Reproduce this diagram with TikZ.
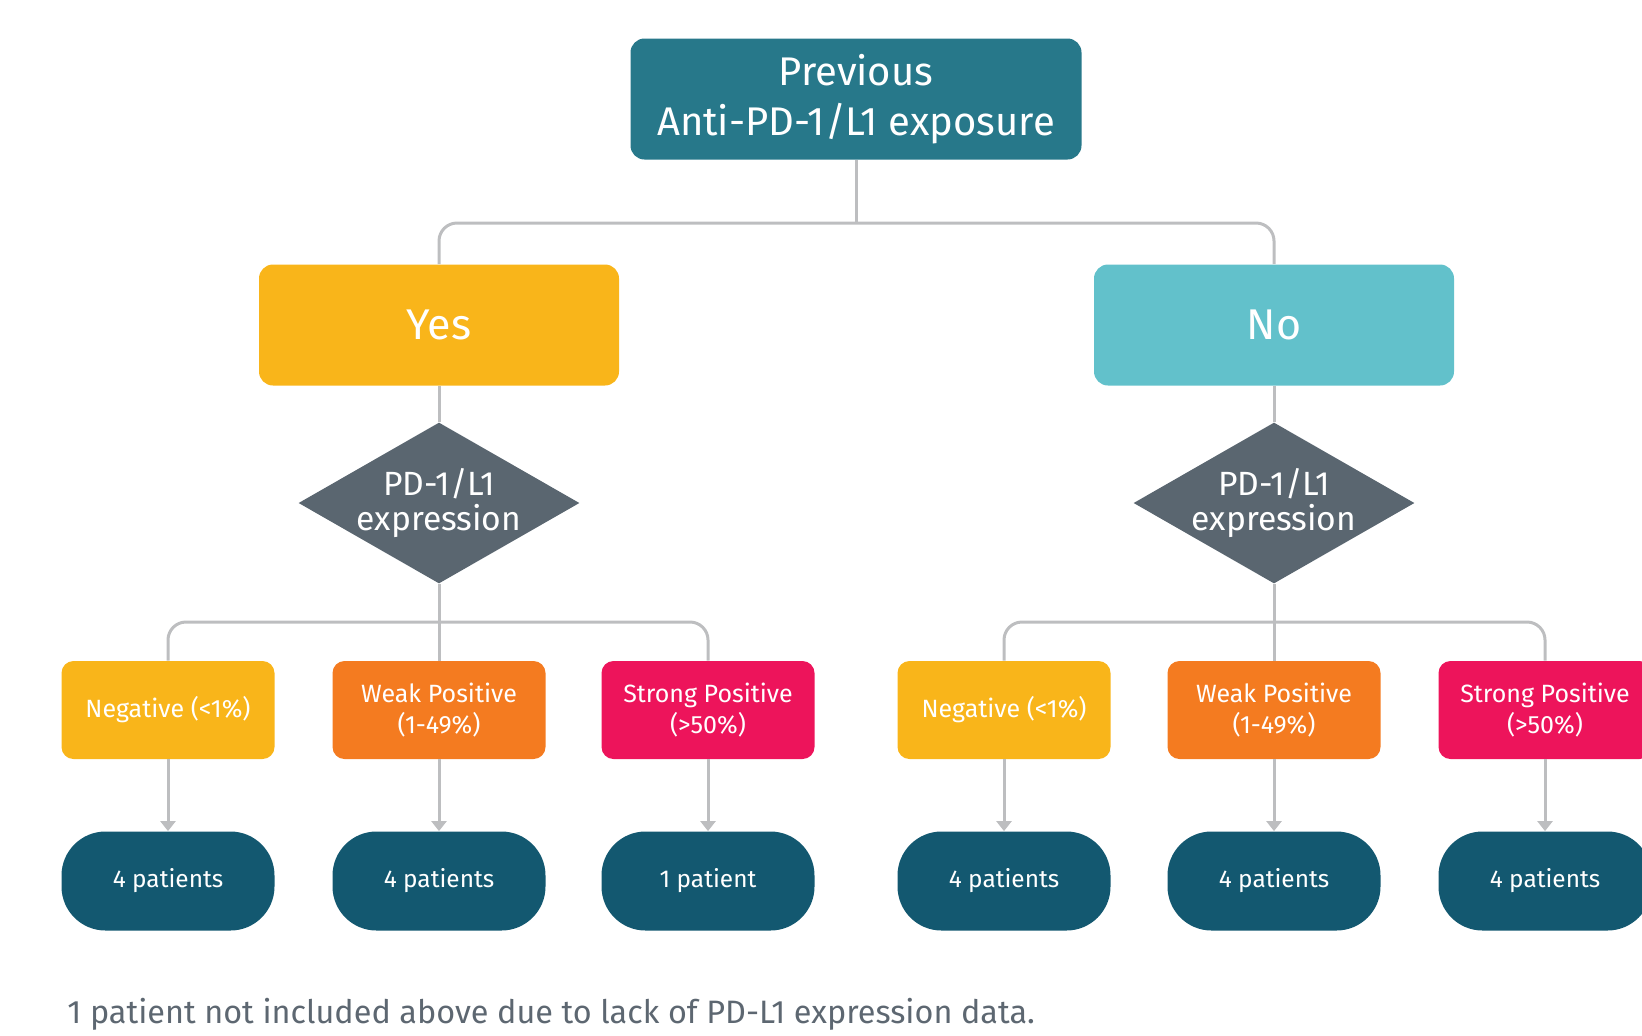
\documentclass[tikz,border=0pt]{standalone}
\usepackage{fontspec}
\setmainfont{Fira Sans}
\usetikzlibrary{positioning, arrows.meta, shapes.geometric}
\definecolor{exposeteal}{HTML}{27788A}
\definecolor{yesgold}{HTML}{F9B51A}
\definecolor{nocyan}{HTML}{62C1CB}
\definecolor{slate}{HTML}{5A6670}
\definecolor{weakorange}{HTML}{F47B20}
\definecolor{strongpink}{HTML}{ED145B}
\definecolor{patientblue}{HTML}{135870}
\definecolor{linegray}{HTML}{BDBEC0}
\definecolor{notegray}{HTML}{5D6771}

\begin{document}
\begin{tikzpicture}[
    x=0.5pt, y=-0.5pt,
    topbox/.style={draw=none, rectangle, rounded corners=7pt, minimum width=225.5pt,
                   minimum height=60.5pt, align=center, fill=exposeteal, text=white,
                   font=\fontsize{20}{25}\selectfont, inner sep=0pt},
    answer/.style={rectangle, rounded corners=7pt, minimum width=180pt,
                   minimum height=60.5pt, align=center, text=white,
                   font=\fontsize{21.5}{24}\selectfont, inner sep=0pt},
    decision/.style={diamond, fill=slate, minimum width=140.5pt, minimum height=80.5pt,
                     inner sep=-10pt, align=center, text=white,
                     font=\fontsize{16.8}{17.5}\selectfont},
    level/.style={rectangle, rounded corners=6pt, minimum width=106.5pt,
                  minimum height=49pt, align=center, text=white,
                  font=\fontsize{12.5}{15.5}\selectfont, inner sep=0pt},
    count/.style={rectangle, rounded corners=22pt, minimum width=106.5pt,
                  minimum height=49.5pt, align=center, fill=patientblue, text=white,
                  font=\fontsize{12.2}{14}\selectfont, inner sep=0pt},
    link/.style={draw=linegray, line width=1.5pt, rounded corners=9pt},
    arrow/.style={draw=linegray, line width=1.5pt, -{Triangle[width=7.5pt, length=5pt]}}
]
\useasboundingbox (0,0) rectangle (1642,1035);
\clip (0,0) rectangle (1642,1035);

% top of the tree
\node[topbox] (expose) at (856,99) {Previous\\Anti-PD-1/L1 exposure};
\node[answer, fill=yesgold] (yes) at (439,325) {Yes};
\node[answer, fill=nocyan] (no) at (1274,325) {No};
\coordinate (split) at (856,223);

% expression diamonds
\node[decision] (exyes) at (439,503) {PD-1/L1\\expression};
\node[decision] (exno) at (1274,503) {PD-1/L1\\expression};
\coordinate (busyes) at (439,622);
\coordinate (busno) at (1274,622);

% expression levels
\node[level, fill=yesgold] (negyes) at (168,710) {Negative (<1\%)};
\node[level, fill=weakorange] (weakyes) at (439,710) {Weak Positive\\(1-49\%)};
\node[level, fill=strongpink] (strongyes) at (708,710) {Strong Positive\\(>50\%)};
\node[level, fill=yesgold] (negno) at (1004,710) {Negative (<1\%)};
\node[level, fill=weakorange] (weakno) at (1274,710) {Weak Positive\\(1-49\%)};
\node[level, fill=strongpink] (strongno) at (1545,710) {Strong Positive\\(>50\%)};

% patient counts
\node[count] (cnegyes) at (168,881) {4 patients};
\node[count] (cweakyes) at (439,881) {4 patients};
\node[count] (cstrongyes) at (708,881) {1 patient};
\node[count] (cnegno) at (1004,881) {4 patients};
\node[count] (cweakno) at (1274,881) {4 patients};
\node[count] (cstrongno) at (1545,881) {4 patients};

\node[anchor=west, text=notegray, font=\fontsize{16.2}{18}\selectfont, inner sep=0pt]
    (note) at (67,1014) {1 patient not included above due to lack of PD-L1 expression data.};

% connectors
\draw[link] (expose.south) -- (split);
\draw[link] (yes.north) -- (yes.north |- split) -- (no.north |- split) -- (no.north);
\draw[link] (yes.south) -- (exyes.north);
\draw[link] (no.south) -- (exno.north);

\draw[link] (exyes.south) -- (weakyes.north);
\draw[link] (negyes.north) -- (negyes.north |- busyes) -- (strongyes.north |- busyes) -- (strongyes.north);
\draw[link] (exno.south) -- (weakno.north);
\draw[link] (negno.north) -- (negno.north |- busno) -- (strongno.north |- busno) -- (strongno.north);

\draw[arrow] (negyes) -- (cnegyes);
\draw[arrow] (weakyes) -- (cweakyes);
\draw[arrow] (strongyes) -- (cstrongyes);
\draw[arrow] (negno) -- (cnegno);
\draw[arrow] (weakno) -- (cweakno);
\draw[arrow] (strongno) -- (cstrongno);
\end{tikzpicture}
\end{document}
